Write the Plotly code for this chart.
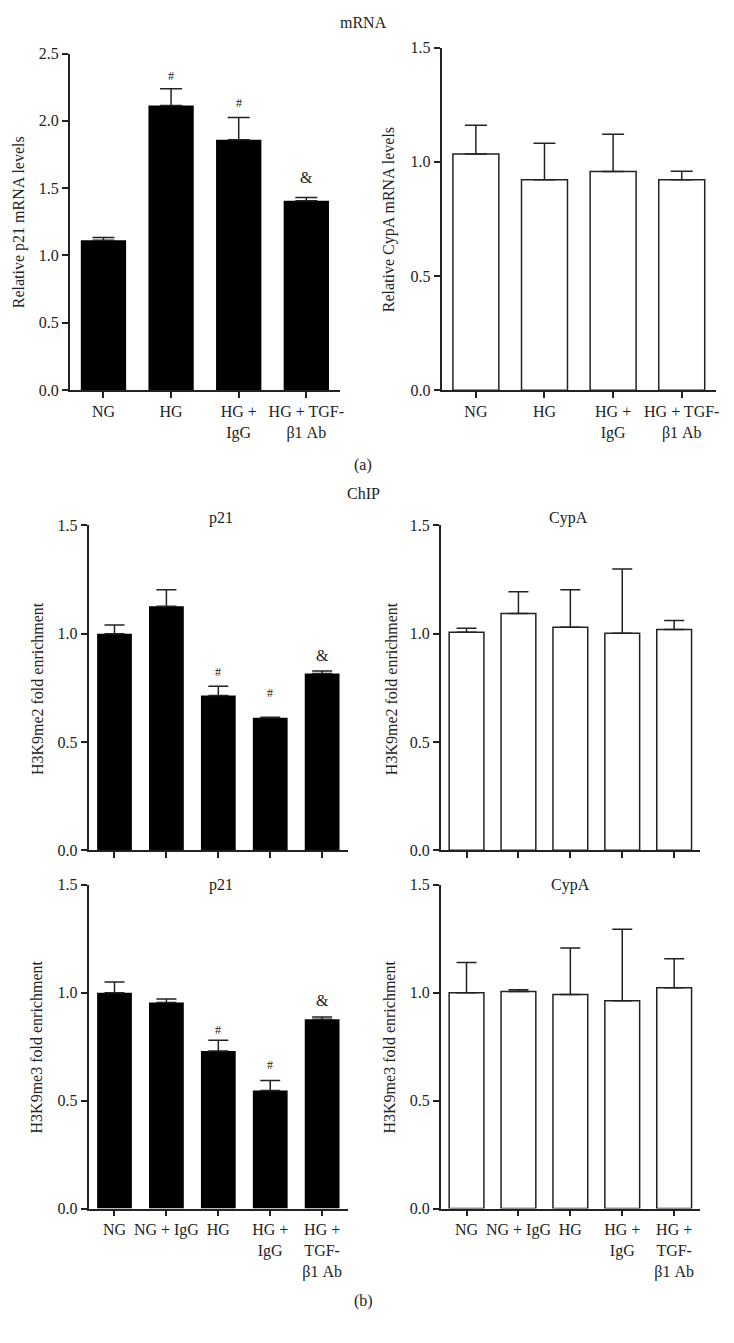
import plotly.graph_objects as go

PAGE_W, PAGE_H = 734, 1343
BODY = 8  # default browser body margin
W, H = PAGE_W - 2 * BODY, PAGE_H - 2 * BODY

# ---------------- data ----------------
cats_a = ["NG", "HG", "HG +<br>IgG", "HG + TGF-<br>β1 Ab"]
cats_b = ["NG", "NG + IgG", "HG", "HG +<br>IgG", "HG +<br>TGF-<br>β1 Ab"]

p21_mrna = [1.113, 2.114, 1.860, 1.406]
p21_mrna_sem = [0.020, 0.125, 0.164, 0.025]
cypa_mrna = [1.034, 0.921, 0.957, 0.921]
cypa_mrna_sem = [0.126, 0.160, 0.164, 0.038]

p21_me2 = [1.000, 1.127, 0.714, 0.612, 0.816]
p21_me2_sem = [0.040, 0.076, 0.043, 0.002, 0.012]
cypa_me2 = [1.007, 1.093, 1.029, 1.002, 1.019]
cypa_me2_sem = [0.018, 0.101, 0.174, 0.297, 0.042]

p21_me3 = [1.000, 0.954, 0.730, 0.547, 0.877]
p21_me3_sem = [0.049, 0.017, 0.049, 0.046, 0.010]
cypa_me3 = [1.000, 1.005, 0.992, 0.962, 1.023]
cypa_me3_sem = [0.140, 0.009, 0.215, 0.332, 0.134]

# significance marks: (category index, symbol, y level in data units)
sig_p21_mrna = [(1, "#", 2.336), (2, "#", 2.129), (3, "&", 1.580)]
sig_p21_me2 = [(2, "#", 0.825), (3, "#", 0.728), (4, "&", 0.901)]
sig_p21_me3 = [(2, "#", 0.825), (3, "#", 0.663), (4, "&", 0.963)]

FONT = "Liberation Serif"
INK = "#222222"
FS = 16


def px(x):
    return (x - BODY) / W


def py(y):
    return 1 - (y - BODY) / H


panels = [
    dict(cats=cats_a, v=p21_mrna, e=p21_mrna_sem, black=True, ymax=2.5,
         xd=(70, 342), yd=(46, 387), title="Relative p21 mRNA levels",
         tx=19, ty=217, labels=True, sig=sig_p21_mrna, cap=11),
    dict(cats=cats_a, v=cypa_mrna, e=cypa_mrna_sem, black=False, ymax=1.5,
         xd=(444, 720), yd=(40, 387), title="Relative CypA mRNA levels",
         tx=392, ty=214, labels=True, sig=[], cap=11),
    dict(cats=cats_b, v=p21_me2, e=p21_me2_sem, black=True, ymax=1.5,
         xd=(89, 350), yd=(524, 853), title="H3K9me2 fold enrichment",
         tx=37, ty=689, labels=False, sig=sig_p21_me2, cap=10),
    dict(cats=cats_b, v=cypa_me2, e=cypa_me2_sem, black=False, ymax=1.5,
         xd=(443, 704), yd=(524, 853), title="H3K9me2 fold enrichment",
         tx=393, ty=689, labels=False, sig=[], cap=10),
    dict(cats=cats_b, v=p21_me3, e=p21_me3_sem, black=True, ymax=1.5,
         xd=(89, 350), yd=(888, 1216), title="H3K9me3 fold enrichment",
         tx=37, ty=1052, labels=True, sig=sig_p21_me3, cap=10),
    dict(cats=cats_b, v=cypa_me3, e=cypa_me3_sem, black=False, ymax=1.5,
         xd=(443, 704), yd=(888, 1216), title="H3K9me3 fold enrichment",
         tx=392, ty=1052, labels=True, sig=[], cap=10),
]

fig = go.Figure()
annotations = []
layout = {}

for i, p in enumerate(panels, start=1):
    xa = "x" if i == 1 else f"x{i}"
    ya = "y" if i == 1 else f"y{i}"
    n = len(p["cats"])
    xs = list(range(n))
    fig.add_trace(go.Bar(
        x=xs, y=p["v"], xaxis=xa, yaxis=ya, width=0.67,
        marker=dict(color="black" if p["black"] else "white",
                    line=dict(color=INK, width=0 if p["black"] else 1.5)),
        error_y=dict(type="data", symmetric=False, array=p["e"],
                     arrayminus=[0] * n, color=INK, thickness=1.5,
                     width=p["cap"]),
        showlegend=False, hoverinfo="skip",
    ))
    xkey = "xaxis" if i == 1 else f"xaxis{i}"
    ykey = "yaxis" if i == 1 else f"yaxis{i}"
    layout[xkey] = dict(
        domain=[px(p["xd"][0]), px(p["xd"][1])], anchor=ya,
        range=[-0.5, n - 0.5], tickvals=xs, ticktext=p["cats"],
        showticklabels=p["labels"], ticks="outside", ticklen=6,
        tickwidth=1.5, tickcolor=INK, showline=True, linecolor=INK,
        linewidth=1.5, showgrid=False, zeroline=False, fixedrange=True,
        tickfont=dict(family=FONT, size=FS, color=INK), tickangle=0,
    )
    layout[ykey] = dict(
        domain=[py(p["yd"][1]), py(p["yd"][0])], anchor=xa,
        range=[0, p["ymax"]], dtick=0.5, tickformat=".1f",
        ticks="outside", ticklen=6, tickwidth=1.5, tickcolor=INK,
        showline=True, linecolor=INK, linewidth=1.5, showgrid=False,
        zeroline=False, fixedrange=True,
        tickfont=dict(family=FONT, size=FS, color=INK),
    )
    annotations.append(dict(
        text=p["title"], x=px(p["tx"]), y=py(p["ty"]), xref="paper",
        yref="paper", textangle=-90, showarrow=False, xanchor="center",
        yanchor="middle", font=dict(family=FONT, size=FS, color=INK),
    ))
    for (ci, sym, yv) in p["sig"]:
        annotations.append(dict(
            text=sym, x=ci, y=yv, xref=xa, yref=ya, showarrow=False,
            xanchor="center", yanchor="middle",
            font=dict(family=FONT, size=12 if sym == "#" else 16, color=INK),
        ))

# figure-level labels
for txt, x, y in [("mRNA", 365, 15), ("(a)", 365, 463), ("ChIP", 365, 492),
                  ("(b)", 365, 1310), ("p21", 222, 517), ("CypA", 572, 517),
                  ("p21", 222, 888), ("CypA", 574, 888)]:
    annotations.append(dict(
        text=txt, x=px(x), y=py(y), xref="paper", yref="paper",
        showarrow=False, xanchor="center", yanchor="middle",
        font=dict(family=FONT, size=FS, color=INK),
    ))

fig.update_layout(
    width=W, height=H, margin=dict(l=0, r=0, t=0, b=0),
    paper_bgcolor="white", plot_bgcolor="white",
    annotations=annotations, bargap=0.3, **layout,
)

fig.write_html("out.html", config=dict(displayModeBar=False))
